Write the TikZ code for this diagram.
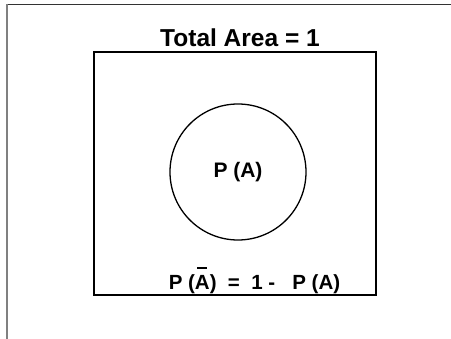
\documentclass[tikz,border=0pt]{standalone}
\usepackage{fontspec}
\setmainfont{Liberation Sans}
\usepackage{tikz}
\usetikzlibrary{positioning}
\definecolor{PageGray}{HTML}{808080}
\newcommand{\barA}{\leavevmode\rlap{\hspace{0.12em}\rule[1.02em]{0.48em}{0.1em}}A}
\tikzset{
  areabox/.style={draw=black, line width=1.6pt, minimum width=282pt,
    minimum height=243pt, inner sep=0pt},
  eventcirc/.style={draw=black, circle, line width=1.3pt, minimum size=136pt,
    inner sep=0pt, font=\bfseries\fontsize{21}{25}\selectfont},
  lbl/.style={inner sep=0pt, font=\bfseries\fontsize{#1}{#1}\selectfont},
  lbl/.default={20.5},
}
\begin{document}
\begin{tikzpicture}[x=1pt, y=-1pt]
  \useasboundingbox (0,0) rectangle (451,339);
  % page edges
  \draw[line width=0.8pt, black!80] (7,4) -- (451,4);
  \draw[line width=1.8pt, PageGray] (7,4) -- (7,339);

  \node[areabox] (box) at (235,173.5) {};
  \node[eventcirc] (evA) at (238,172) {P (A)};
  \node[lbl=24.5, above=4.5pt of box, xshift=5pt] (total) {Total Area = 1};
  \node[lbl, anchor=base] (compl) at (254.5,290)
    {P (\barA)\ \ =\ \ 1 -\ \ \ P (A)};
\end{tikzpicture}
\end{document}
